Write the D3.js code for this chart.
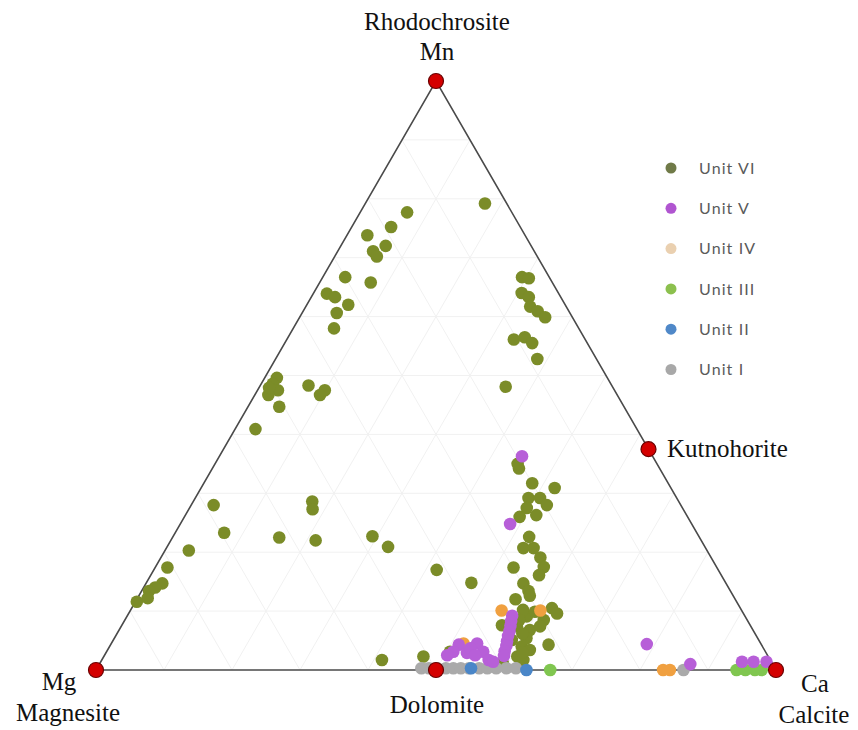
<!DOCTYPE html>
<html>
<head>
<meta charset="utf-8">
<script src="https://cdn.jsdelivr.net/npm/d3@7"></script>
<style>
  html, body { margin: 0; padding: 0; background: #ffffff; }
  svg { display: block; }
</style>
</head>
<body>
<svg id="chart" width="858" height="730"></svg>
<script>
// ---- Data: compositions as [Ca %, Mn %]; Mg % = 100 - Ca - Mn ----
const unitNames = ["Unit VI", "Unit V", "Unit IV", "Unit III", "Unit II", "Unit I"];

const unit6 = [
  [17.6,79.2],[6.9,77.7],[5.8,75.2],[3.0,73.8],[6.6,72.0],[5.2,71.1],[6.2,70.2],[3.3,66.7],[7.5,65.8],
  [2.0,63.9],[3.5,63.3],[6.1,62.0],[5.1,60.6],[6.0,58.0],
  [1.8,49.6],[1.7,48.6],[3.0,47.5],[2.0,46.7],[4.6,44.7],[1.5,47.9],[7.1,48.3],[9.9,47.5],[9.6,46.7],[3.0,40.9],
  [3.3,28.0],[17.5,28.6],[18.2,27.3],[7.2,23.3],[15.7,22.5],[21.3,22.0],[29.3,22.7],[32.5,20.9],
  [3.5,20.3],[1.8,17.4],[2.4,14.7],[1.7,14.0],[1.1,13.4],[1.5,12.2],[0.2,11.6],
  [41.2,1.7],[47.0,2.3],[41.6,17.0],[47.8,14.8],
  [29.3,66.7],[30.4,66.5],[30.6,64.0],[32.0,63.3],[33.0,61.7],[34.5,60.9],[36.1,59.9],
  [33.4,56.1],[34.8,56.5],[36.4,55.5],[38.5,52.8],[36.2,48.1],
  [45.1,34.2],[44.5,35.0],[48.3,31.7],[52.0,30.9],[49.0,29.2],[50.7,29.2],[52.3,28.0],[49.6,27.5],
  [51.6,26.3],[49.3,26.0],[52.4,22.6],[52.5,20.7],[54.0,20.7],[55.8,19.1],[57.1,17.5],[52.7,17.4],
  [57.1,16.1],[55.5,14.7],[56.9,13.4],[55.7,12.0],[57.5,12.6],
  [61.8,10.5],[63.0,9.6],[61.6,8.5],[58.8,9.1],[58.2,7.4],[60.4,6.8],[61.6,7.4],[64.4,4.3],
  [60.6,4.0],[60.6,5.4],[60.8,2.3],[62.0,1.7],[57.7,10.2],[50.5,3.1],[58.6,5.1],[62.1,3.4],
  [58.0,8.5],[59.6,9.9],[55.9,7.6],[59.2,1.2],[61.2,3.0],[59.6,6.2]
];
const unit5 = [
  [44.5,36.3],[48.5,24.8],
  [56.6,9.2],[56.9,8.3],[57.2,7.5],[57.5,6.6],[57.7,5.8],[58.0,4.9],[58.3,4.1],[58.5,3.2],[58.8,2.4],
  [51.2,4.3],[53.8,4.5],[55.4,3.1],[53.1,2.9],[51.0,3.1],[56.9,1.7],[57.7,1.4],[53.2,3.7],[50.4,2.5],[54.5,2.5],
  [78.8,4.4],[86.9,1.0],[94.3,1.4],[96.0,1.4],[97.9,1.4]
];
const unit4 = [[54.6,10.1],[60.3,10.1],[51.8,4.5],[83.4,0],[84.4,0]];
const unit3 = [[66.8,0],[94.2,0],[95.5,0],[96.9,0],[97.9,0]];
const unit2 = [[55.0,0.3],[63.3,0]];
const unit1 = [
  [47.7,0.3],[48.8,0.3],[50.0,0.3],[51.3,0.3],[52.4,0.3],[53.5,0.3],[54.7,0.3],
  [56.2,0.3],[57.4,0.3],[58.7,0.3],[60.2,0.3],[61.6,0.3],[86.4,0]
];

// End-member minerals: [Ca %, Mn %]
const mineralNames = ["Mn", "Kutnohorite", "Ca", "Dolomite", "Mg"];
const mineralComps = [[0,100],[62.5,37.5],[100,0],[50,0],[0,0]];

const gridTicks = [10,20,30,40,50,60,70,80,90];

// ---- Styles ----
const unitColors  = ["#7b8c28", "#b75fd8", "#f0a040", "#80c650", "#4a86c8", "#aaaaaa"];
const legendColors = ["#707a48", "#b055d0", "#ead0b0", "#8cc04e", "#4f88c8", "#a8a8a8"];

const svg = d3.select("#chart");
svg.append("rect").attr("width", 858).attr("height", 730).attr("fill", "#fff");

const xScale = d3.scaleLinear().domain([0, 100]).range([96, 776]);
const yScale = d3.scaleLinear().domain([0, 100]).range([670, 81]);
const px = d => xScale(d[0] + d[1] / 2);
const py = d => yScale(d[1]);

// Grid
const grid = svg.append("g").attr("stroke", "#f1f1f1").attr("stroke-width", 1).attr("fill", "none");
gridTicks.forEach(k => {
  const segs = [
    [[0, k], [100 - k, k]],          // constant Mn
    [[k, 0], [k, 100 - k]],          // constant Ca
    [[100 - k, 0], [0, 100 - k]]     // constant Mg
  ];
  segs.forEach(s => grid.append("line")
    .attr("x1", px(s[0])).attr("y1", py(s[0]))
    .attr("x2", px(s[1])).attr("y2", py(s[1])));
});

// Triangle outline
const tri = [[0,0],[100,0],[0,100]];
svg.append("path")
  .attr("d", d3.line().x(px).y(py)(tri) + "Z")
  .attr("fill", "none").attr("stroke", "#4a4a4a").attr("stroke-width", 1.6);

// Data points (draw order)
const series = [unit6, unit5, unit4, unit3, unit2, unit1];
const drawOrder = [0, 5, 4, 3, 2, 1];
drawOrder.forEach(i => {
  svg.append("g").selectAll("circle").data(series[i]).join("circle")
    .attr("cx", px).attr("cy", py).attr("r", 6.3)
    .attr("fill", unitColors[i]);
});

// End-member markers
svg.append("g").selectAll("circle").data(mineralComps).join("circle")
  .attr("cx", px).attr("cy", py).attr("r", 7.5)
  .attr("fill", "#d40000").attr("stroke", "#6a0000").attr("stroke-width", 1.2);

// Labels
const serif = "'Liberation Serif', 'Times New Roman', serif";
const labels = [
  {t: "Rhodochrosite", x: 437, y: 30, a: "middle"},
  {t: mineralNames[0], x: 437, y: 60, a: "middle"},
  {t: mineralNames[1], x: 667, y: 457, a: "start"},
  {t: mineralNames[4], x: 59, y: 690, a: "middle"},
  {t: "Magnesite", x: 68, y: 721, a: "middle"},
  {t: mineralNames[3], x: 437, y: 713, a: "middle"},
  {t: mineralNames[2], x: 815, y: 692, a: "middle"},
  {t: "Calcite", x: 814, y: 723, a: "middle"}
];
svg.append("g").selectAll("text").data(labels).join("text")
  .attr("x", d => d.x).attr("y", d => d.y).attr("text-anchor", d => d.a)
  .attr("font-family", serif).attr("font-size", 25).attr("fill", "#111")
  .text(d => d.t);

// Legend
const leg = svg.append("g");
unitNames.forEach((n, i) => {
  const y = 168 + i * 40.3;
  leg.append("circle").attr("cx", 671).attr("cy", y).attr("r", 5.5).attr("fill", legendColors[i]);
  leg.append("text").attr("x", 699).attr("y", y).attr("dy", "0.36em")
    .attr("font-family", "Lato, 'Open Sans', sans-serif").attr("font-size", 16)
    .attr("letter-spacing", "1.1px").attr("fill", "#5a5a5a").text(n);
});
</script>
</body>
</html>
